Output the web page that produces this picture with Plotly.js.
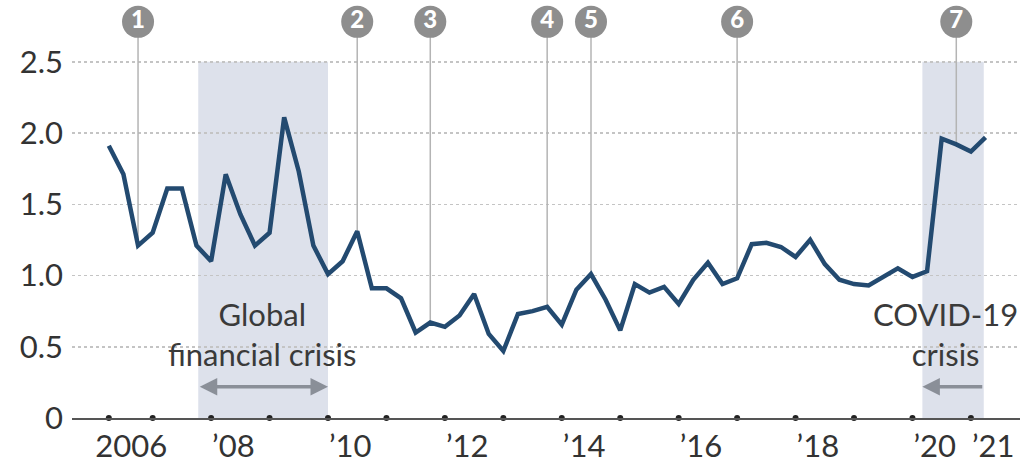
<!DOCTYPE html>
<html>
<head>
<meta charset="utf-8">
<script src="https://cdn.plot.ly/plotly-3.0.1.min.js"></script>
<style>html,body{margin:0;padding:0;background:#fff;}#chart{width:1023px;height:463px;}</style>
</head>
<body>
<div id="chart"></div>
<script>
// Quarterly series, 2006Q2 .. 2021Q2
const startYear = 2006.25;
const values = [
  1.91, 1.71, 1.21, 1.30, 1.61, 1.61, 1.21, 1.10, 1.71, 1.43,
  1.21, 1.30, 2.11, 1.73, 1.21, 1.01, 1.10, 1.31, 0.91, 0.91,
  0.84, 0.60, 0.67, 0.64, 0.72, 0.87, 0.59, 0.47, 0.73, 0.75,
  0.78, 0.655, 0.90, 1.01, 0.83, 0.615, 0.94, 0.88, 0.92, 0.80,
  0.97, 1.09, 0.94, 0.98, 1.22, 1.23, 1.20, 1.13, 1.25, 1.08,
  0.97, 0.94, 0.93, 0.99, 1.05, 0.99, 1.03, 1.96, 1.92, 1.87,
  1.97
];
const dates = values.map((v, i) => startYear + 0.25 * i);

// Numbered events
const eventLabels = ["1", "2", "3", "4", "5", "6", "7"];
const eventDates = [2006.75, 2010.5, 2011.75, 2013.75, 2014.5, 2017.0, 2020.75];
const eventMarkerLevel = 2.78;

// Axis ticks
const yTickVals = [0, 0.5, 1.0, 1.5, 2.0, 2.5];
const yTickText = ["0", "0.5", "1.0", "1.5", "2.0", "2.5"];
const xTickVals = [2006, 2008, 2010, 2012, 2014, 2016, 2018, 2020, 2021];
const xTickText = ["2006", "\u201908", "\u201910", "\u201912", "\u201914", "\u201916", "\u201918", "\u201920", "\u201921"];
const xDots = [2006.25, 2007, 2008, 2009, 2010, 2011, 2012, 2013, 2014, 2015, 2016, 2017, 2018, 2019, 2020, 2021];

// Crisis periods
const crisisStart = [2007.78, 2020.17];
const crisisEnd = [2010.0, 2021.22];
const crisisLabels = ["Global<br>financial crisis", "COVID-19<br>crisis"];
const crisisLabelX = [2008.87, 2020.56];
const crisisTop = 2.5;

function valueAt(d) {
  const i = dates.findIndex(x => Math.abs(x - d) < 1e-6);
  return values[i];
}

const traces = [];
// event stems
eventDates.forEach((d) => {
  traces.push({
    x: [d, d], y: [valueAt(d), eventMarkerLevel],
    mode: "lines", line: {color: "#b4b4b4", width: 1.5},
    hoverinfo: "skip", showlegend: false
  });
});
// main line
traces.push({
  x: dates, y: values, mode: "lines",
  line: {color: "#234a70", width: 4.5, shape: "linear"},
  showlegend: false, hoverinfo: "x+y"
});
// axis dots
traces.push({
  x: xDots, y: xDots.map(() => 0), mode: "markers",
  marker: {color: "#222", size: 6}, cliponaxis: false,
  showlegend: false, hoverinfo: "skip"
});
// event circles
traces.push({
  x: eventDates, y: eventDates.map(() => eventMarkerLevel),
  mode: "markers+text", text: eventLabels, textposition: "middle center",
  textfont: {family: "Lato, 'DejaVu Sans', sans-serif", size: 24, color: "#ffffff", weight: 900},
  marker: {color: "#8e8e8e", size: 32, line: {width: 0}},
  cliponaxis: false, showlegend: false, hoverinfo: "skip"
});

const shapes = crisisStart.map((s, i) => ({
  type: "rect", xref: "x", yref: "y", x0: s, x1: crisisEnd[i], y0: 0, y1: crisisTop,
  fillcolor: "#dde1eb", line: {width: 0}, layer: "below"
}));

const annotations = [];
crisisLabels.forEach((t, i) => {
  annotations.push({
    x: crisisLabelX[i], y: 0.59, xref: "x", yref: "y", text: t, showarrow: false,
    font: {family: "Lato, sans-serif", size: 31, color: "#3a3a3a"},
    xanchor: "center", yanchor: "middle", align: "center"
  });
});
// GFC double arrow
annotations.push({
  x: crisisEnd[0], y: 0.22, ax: crisisStart[0], ay: 0.22,
  xref: "x", yref: "y", axref: "x", ayref: "y", text: "",
  showarrow: true, arrowhead: 2, arrowside: "end+start", arrowsize: 1,
  arrowwidth: 3.5, arrowcolor: "#8a8f98"
});
// COVID arrow pointing left
annotations.push({
  x: crisisStart[1], y: 0.22, ax: crisisEnd[1], ay: 0.22,
  xref: "x", yref: "y", axref: "x", ayref: "y", text: "",
  showarrow: true, arrowhead: 2, arrowsize: 1,
  arrowwidth: 3.5, arrowcolor: "#8a8f98"
});

const layout = {
  width: 1023, height: 463,
  margin: {l: 72, r: 3, t: 19, b: 45},
  paper_bgcolor: "#ffffff", plot_bgcolor: "#ffffff",
  font: {family: "Lato, sans-serif", color: "#333"},
  xaxis: {
    range: [2005.62, 2021.84], tickvals: xTickVals, ticktext: xTickText,
    ticklabelposition: "outside right",
    showgrid: false, zeroline: false, showline: true, linecolor: "#555", linewidth: 2,
    ticks: "", tickfont: {family: "Lato, sans-serif", size: 31, color: "#333"},
    fixedrange: true
  },
  yaxis: {
    range: [0, 2.8], tickvals: yTickVals, ticktext: yTickText,
    showgrid: true, gridcolor: "#c4c4c4", griddash: "dot", gridwidth: 1.5,
    zeroline: false, showline: false, ticks: "", ticklabelstandoff: 8,
    tickfont: {family: "Lato, sans-serif", size: 31, color: "#333"},
    fixedrange: true
  },
  shapes: shapes,
  annotations: annotations,
  showlegend: false
};

Plotly.newPlot("chart", traces, layout, {displayModeBar: false, staticPlot: true});
</script>
</body>
</html>
